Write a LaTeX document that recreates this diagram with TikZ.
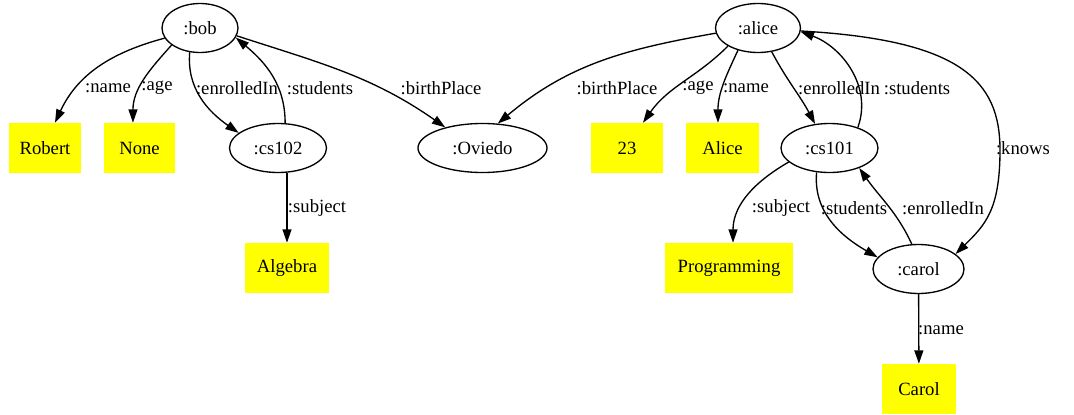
\documentclass[tikz,border=0pt]{standalone}
\usepackage{fontspec}
\setmainfont{Liberation Serif}
\usetikzlibrary{shapes.geometric}
\usetikzlibrary{arrows.meta}
\definecolor{litfill}{RGB}{255,255,0}

\begin{document}
\begin{tikzpicture}[x=0.75pt, y=0.75pt]
% Style definitions
\tikzset{
    resource/.style={draw, ellipse, line width=1pt, minimum height=36.75pt,
                     inner sep=0pt, font=\fontsize{14}{16}\selectfont},
    literal/.style={fill=litfill, minimum height=37.5pt, inner sep=0pt,
                    font=\fontsize{14}{16}\selectfont},
    prop/.style={inner sep=0pt, font=\fontsize{14}{16}\selectfont},
    link/.style={-{Triangle[length=10pt, width=6.7pt]}, line width=1pt}
}
\useasboundingbox (0,0) rectangle (1074,-414);

% Bob and his neighbours
\node[resource, minimum width=57pt] (bob) at (200,-28) {:bob};
\node[literal, minimum width=54pt] (robert) at (45,-148) {Robert};
\node[literal, minimum width=53.25pt] (none) at (139.5,-148) {None};
\node[resource, minimum width=72.75pt] (cs102) at (278,-148) {:cs102};
\node[resource, minimum width=96.75pt] (oviedo) at (482.5,-148) {:Oviedo};
\node[literal, minimum width=63pt] (algebra) at (287,-268) {Algebra};

% Alice, the course and Carol
\node[resource, minimum width=63.75pt] (alice) at (758,-28) {:alice};
\node[literal, minimum width=54pt] (age) at (627,-148) {23};
\node[literal, minimum width=54.75pt] (alicename) at (722.5,-148) {Alice};
\node[resource, minimum width=72.75pt] (cs101) at (829.5,-148) {:cs101};
\node[literal, minimum width=96pt] (programming) at (729,-268) {Programming};
\node[resource, minimum width=68.25pt] (carol) at (918.5,-269) {:carol};
\node[literal, minimum width=55.5pt] (carolname) at (919,-389) {Carol};

% Edges from bob
\draw[link] (bob.196) to[out=195, in=65] ([xshift=7.5pt]robert.north);
\draw[link] (bob.211) to[out=228, in=90] ([xshift=-4.9pt]none.north);
\draw[link] (bob.247) to[out=265, in=145] (cs102.159);
\draw[link] (cs102.74) to[out=90, in=-40] (bob.-15);
\draw[link] (bob.-12) to[out=-18, in=145] (oviedo.151);
\draw[link] (cs102.south -| algebra.north) -- (algebra.north);

% Edges from alice
\draw[link] (alice.187) to[out=190, in=40] (oviedo.58);
\draw[link] (alice.211) to[out=225, in=55] ([xshift=12pt]age.north);
\draw[link] (alice.228) to[out=245, in=90] ([xshift=-3.4pt]alicename.north);
\draw[link] (alice.-60) to[out=-62, in=118] (cs101.121);
\draw[link] (cs101.36) to[out=70, in=-20] (alice.-5);
\draw[link] (alice.-4) .. controls (960,-40) and (1000,-80) .. (1000,-150)
    .. controls (1000,-210) and (985,-225) .. (carol.22);

% Edges around cs101 and carol
\draw[link] (cs101.199) to[out=210, in=90] ([xshift=3pt]programming.north);
\draw[link] (cs101.242) to[out=265, in=150] (carol.164);
\draw[link] (carol.105) to[out=115, in=-55] (cs101.-34);
\draw[link] (carol) -- (carolname);

% Edge labels
\node[prop] (bobnameL) at (108,-88) {:name};
\node[prop] (bobageL) at (157,-88) {:age};
\node[prop] (bobenrolL) at (237,-88) {:enrolledIn};
\node[prop] (cs102studL) at (320,-88) {:students};
\node[prop] (bobbirthL) at (441,-88) {:birthPlace};
\node[prop] (cs102subjL) at (317,-208) {:subject};
\node[prop] (alicebirthL) at (617,-88) {:birthPlace};
\node[prop] (aliceageL) at (698,-88) {:age};
\node[prop] (alicenameL) at (746,-88) {:name};
\node[prop] (aliceenrolL) at (839,-88) {:enrolledIn};
\node[prop] (cs101studL) at (917,-88) {:students};
\node[prop] (knowsL) at (1023,-148) {:knows};
\node[prop] (cs101subjL) at (781,-208) {:subject};
\node[prop] (carolstudL) at (854,-208) {:students};
\node[prop] (carolenrolL) at (943,-208) {:enrolledIn};
\node[prop] (carolnameL) at (941,-330) {:name};

\end{tikzpicture}
\end{document}
